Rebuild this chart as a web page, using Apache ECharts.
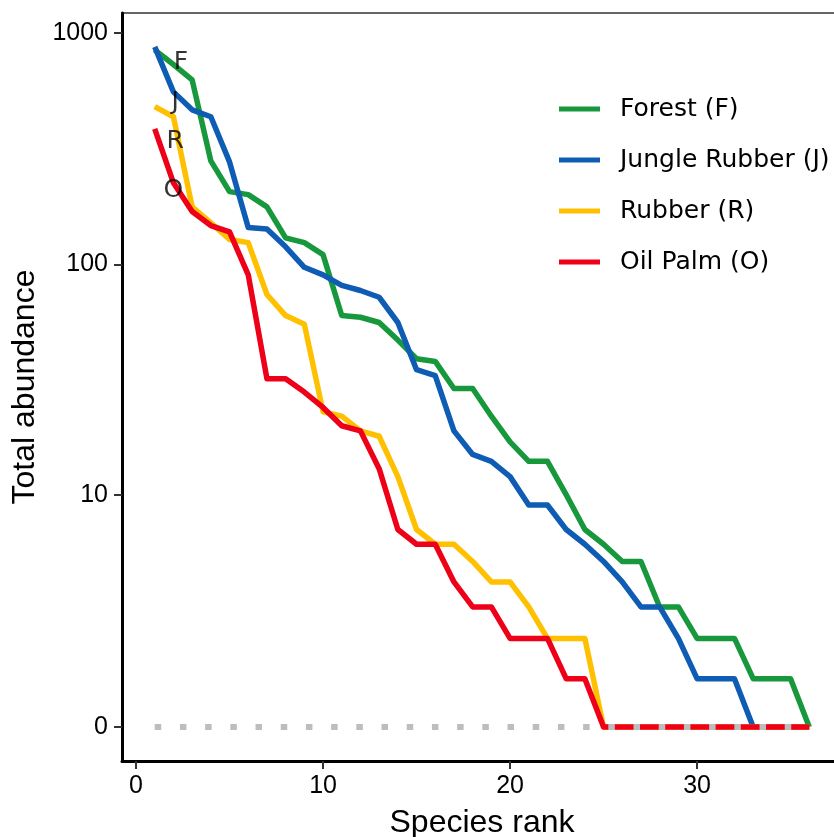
<!DOCTYPE html>
<html>
<head>
<meta charset="utf-8">
<script src="https://cdn.jsdelivr.net/npm/echarts@6/dist/echarts.min.js"></script>
<style>
  html, body { margin: 0; padding: 0; background: #fff; }
  #chart { width: 834px; height: 837px; }
</style>
</head>
<body>
<div id="chart"></div>
<script>
// species rank (x)
const ranks = [1, 2, 3, 4, 5, 6, 7, 8, 9, 10, 11, 12, 13, 14, 15, 16, 17, 18,
  19, 20, 21, 22, 23, 24, 25, 26, 27, 28, 29, 30, 31, 32, 33, 34, 35, 36];

// total abundance per rank
const forest = [845, 730, 627, 280, 206, 200, 177, 130, 124, 110, 60, 59, 56, 47, 39, 38, 29, 29,
  22, 17, 14, 14, 10, 7, 6, 5, 5, 3, 3, 2, 2, 2, 1, 1, 1, 0];
const jungleRubber = [870, 556, 465, 434, 277, 144, 142, 119, 97, 90, 81, 77, 72, 56, 35, 33, 19, 15,
  14, 12, 9, 9, 7, 6, 5, 4, 3, 3, 2, 1, 1, 1, 0, 0, 0, 0];
const rubber = [480, 434, 177, 151, 128, 124, 74, 60, 55, 23, 22, 19, 18, 12, 7, 6, 6, 5,
  4, 4, 3, 2, 2, 2, 0, 0, 0, 0, 0, 0, 0, 0, 0, 0, 0, 0];
const oilPalm = [385, 225, 169, 147, 138, 90, 32, 32, 28, 24, 20, 19, 13, 7, 6, 6, 4, 3,
  3, 2, 2, 2, 1, 1, 0, 0, 0, 0, 0, 0, 0, 0, 0, 0, 0, 0];

const seriesNames = ['Forest (F)', 'Jungle Rubber (J)', 'Rubber (R)', 'Oil Palm (O)'];
const seriesColors = ['#18983C', '#0E5CB3', '#FFC000', '#EE0019'];

const xTicks = [0, 10, 20, 30];
const yTicks = [0, 10, 100, 1000];

// the letters next to the start of each curve
const tags = ['F', 'J', 'R', 'O'];
const tagRanks = [2.4, 2.1, 2.1, 2.0];
const tagValues = [742, 499, 341, 209];

// pseudo log10 scale (sigma = 1), so that 0 can sit on the axis
function pseudoLog(v) { return Math.asinh(v / 2) / Math.LN10; }
function pseudoExp(t) { return 2 * Math.sinh(t * Math.LN10); }

const chart = echarts.init(document.getElementById('chart'));

const lineSeries = [forest, jungleRubber, rubber, oilPalm].map((vals, i) => ({
  name: seriesNames[i],
  type: 'line',
  data: ranks.map((r, j) => [r, pseudoLog(vals[j])]),
  showSymbol: false,
  symbol: 'none',
  color: seriesColors[i],
  lineStyle: { width: 5.5, color: seriesColors[i], join: 'round' },
  z: 2 + i
}));

chart.setOption({
  animation: false,
  backgroundColor: '#fff',
  grid: {
    left: 122, width: 720, top: 13, bottom: 76,
    containLabel: false,
    outerBoundsMode: 'none',
    show: true, borderColor: '#333', borderWidth: 1.5, backgroundColor: 'transparent'
  },
  legend: {
    data: seriesNames.map(n => ({ name: n, icon: 'rect' })),
    orient: 'vertical',
    left: 559,
    top: 95,
    padding: 0,
    itemWidth: 41,
    itemHeight: 5,
    itemGap: 23,
    selectedMode: false,
    textStyle: {
      fontFamily: 'DejaVu Sans', fontSize: 25, color: '#000',
      lineHeight: 28, padding: [0, 0, 0, 15]
    }
  },
  xAxis: {
    type: 'value',
    min: -0.75,
    max: 37.75,
    name: 'Species rank',
    nameLocation: 'middle',
    nameGap: 46,
    nameTextStyle: { fontFamily: 'Liberation Sans', fontSize: 32, color: '#000' },
    axisLine: { onZero: false, lineStyle: { color: '#000', width: 3 } },
    axisTick: { customValues: xTicks, length: 8, lineStyle: { color: '#333', width: 2 } },
    axisLabel: {
      customValues: xTicks, margin: 13,
      fontFamily: 'Liberation Sans', fontSize: 25, color: '#000'
    },
    splitLine: { show: false }
  },
  yAxis: {
    type: 'value',
    min: -0.147,
    max: 3.086,
    name: 'Total abundance',
    nameLocation: 'middle',
    nameGap: 76,
    nameTextStyle: { fontFamily: 'Liberation Sans', fontSize: 32, color: '#000' },
    axisLine: { onZero: false, lineStyle: { color: '#000', width: 3 } },
    axisTick: { customValues: yTicks.map(pseudoLog), length: 8, lineStyle: { color: '#333', width: 2 } },
    axisLabel: {
      customValues: yTicks.map(pseudoLog), margin: 14,
      fontFamily: 'Liberation Sans', fontSize: 25, color: '#000',
      formatter: v => String(Math.round(pseudoExp(v)))
    },
    splitLine: { show: false }
  },
  series: [
    ...lineSeries,
    {
      name: 'zero',
      type: 'line',
      data: ranks.map(r => [r, pseudoLog(0)]),
      showSymbol: false,
      symbol: 'none',
      lineStyle: { color: '#BDBDBD', width: 6, type: [6.5, 18.7], cap: 'butt' },
      z: 10
    },
    {
      name: 'tags',
      type: 'scatter',
      data: tags.map((t, i) => ({ name: t, value: [tagRanks[i], pseudoLog(tagValues[i])] })),
      symbolSize: 1,
      itemStyle: { color: 'rgba(0,0,0,0)' },
      label: {
        show: true, position: 'inside', formatter: '{b}',
        fontFamily: 'DejaVu Sans', fontSize: 25, color: '#000'
      },
      z: 11
    }
  ]
});
</script>
</body>
</html>
